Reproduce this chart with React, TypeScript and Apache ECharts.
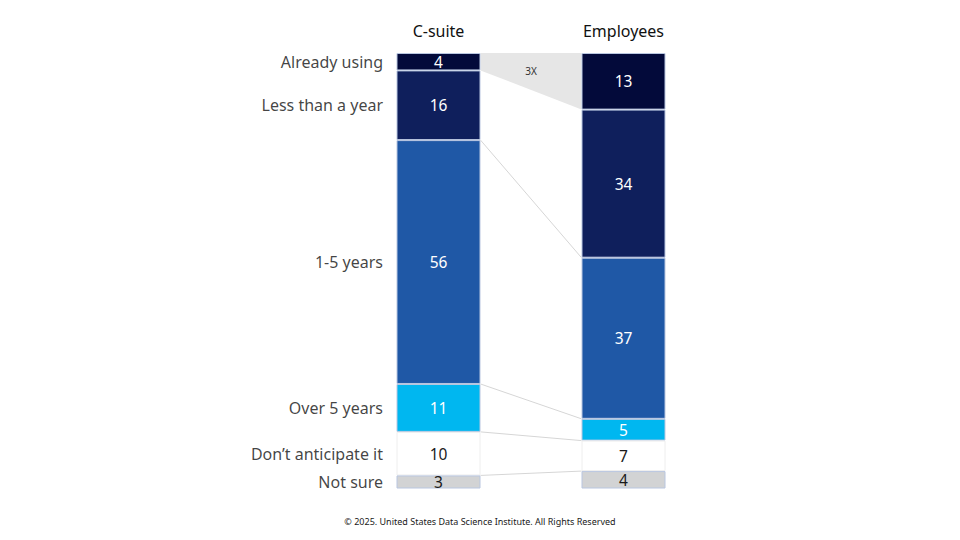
import React, { useEffect, useRef } from "react";
import * as echarts from "echarts";

const groups = ["C-suite", "Employees"];
const categories = [
  "Already using",
  "Less than a year",
  "1-5 years",
  "Over 5 years",
  "Don’t anticipate it",
  "Not sure",
];
const csuite = [4, 16, 56, 11, 10, 3];
const employees = [13, 34, 37, 5, 7, 4];
const colors = ["#030a3a", "#0f1f5c", "#1f58a6", "#00b7f0", "#ffffff", "#d2d3d4"];
const labelColors = ["#ffffff", "#ffffff", "#ffffff", "#ffffff", "#1a1a1a", "#1a1a1a"];
const multiplierLabel = "3X";
const footer = "© 2025. United States Data Science Institute. All Rights Reserved";

const BAR_W = 84;
const FONT = "Noto Sans";

function cumulative(arr: number[]) {
  const out: number[] = [0];
  arr.forEach((v, i) => out.push(out[i] + v));
  return out;
}

export default function App() {
  const ref = useRef<HTMLDivElement>(null);
  useEffect(() => {
    if (!ref.current) return;
    const chart = echarts.init(ref.current, null, { renderer: "svg" });
    const cumC = cumulative(csuite);
    const cumE = cumulative(employees);

    const barSeries = categories.map((name, i) => ({
      name,
      type: "bar",
      stack: "total",
      barWidth: BAR_W,
      data: [csuite[i], employees[i]],
      itemStyle: {
        color: colors[i],
        borderColor: i === 4 ? "#eeeeee" : "#b9c6e0",
        borderWidth: 1,
      },
      label: {
        show: true,
        position: "inside",
        color: labelColors[i],
        fontFamily: FONT,
        fontSize: 15.5,
        formatter: (p: any) => String(p.value),
      },
      z: 3,
    }));

    const nameSeries = {
      type: "scatter",
      symbolSize: 1,
      itemStyle: { color: "rgba(0,0,0,0)" },
      silent: true,
      data: categories.map((n, i) => [0, (cumC[i] + cumC[i + 1]) / 2]),
      label: {
        show: true,
        position: "left",
        distance: 55,
        color: "#111111",
        fontFamily: FONT,
        fontSize: 16,
        formatter: (p: any) => categories[p.dataIndex],
      },
      z: 4,
    };

    const connectorData = [1, 2, 3, 4, 5].map((k) => [k, cumC[k], cumE[k]]);
    const connectorSeries = {
      type: "custom",
      silent: true,
      z: 1,
      data: connectorData,
      renderItem: (params: any, api: any) => {
        const k = api.value(0);
        const c = api.value(1);
        const e = api.value(2);
        const pC = api.coord([0, c]);
        const pE = api.coord([1, e]);
        const x1 = pC[0] + BAR_W / 2;
        const x2 = pE[0] - BAR_W / 2;
        if (k === 1) {
          const topC = api.coord([0, 0]);
          const topE = api.coord([1, 0]);
          return {
            type: "group",
            children: [
              {
                type: "polygon",
                shape: {
                  points: [
                    [x1, topC[1]],
                    [x2, topE[1]],
                    [x2, pE[1]],
                    [x1, pC[1]],
                  ],
                },
                style: { fill: "#e6e6e6" },
              },
              {
                type: "text",
                x: (x1 + x2) / 2,
                y: topC[1] + 18,
                style: {
                  text: multiplierLabel,
                  fill: "#333333",
                  fontFamily: FONT,
                  fontSize: 10,
                  align: "center",
                  verticalAlign: "middle",
                },
              },
            ],
          };
        }
        return {
          type: "line",
          shape: { x1, y1: pC[1], x2, y2: pE[1] },
          style: { stroke: "#d6d6d6", lineWidth: 1 },
        };
      },
    };

    chart.setOption({
      animation: false,
      backgroundColor: "#ffffff",
      grid: { left: 346, right: 244, top: 53, bottom: 51.5 },
      xAxis: {
        type: "category",
        data: groups,
        position: "top",
        axisLine: { show: false },
        axisTick: { show: false },
        axisLabel: {
          color: "#111111",
          fontFamily: FONT,
          fontSize: 16,
          margin: 14,
        },
      },
      yAxis: {
        type: "value",
        min: 0,
        max: 100,
        inverse: true,
        show: false,
        splitLine: { show: false },
      },
      graphic: [
        {
          type: "text",
          left: "center",
          top: 517,
          style: {
            text: footer,
            fill: "#1a1a1a",
            fontFamily: FONT,
            fontSize: 9,
          },
        },
      ],
      series: [connectorSeries, ...barSeries, nameSeries],
    });
    return () => chart.dispose();
  }, []);
  return (
    <div
      ref={ref}
      style={{ position: "fixed", left: 0, top: 0, width: 960, height: 540 }}
    />
  );
}
